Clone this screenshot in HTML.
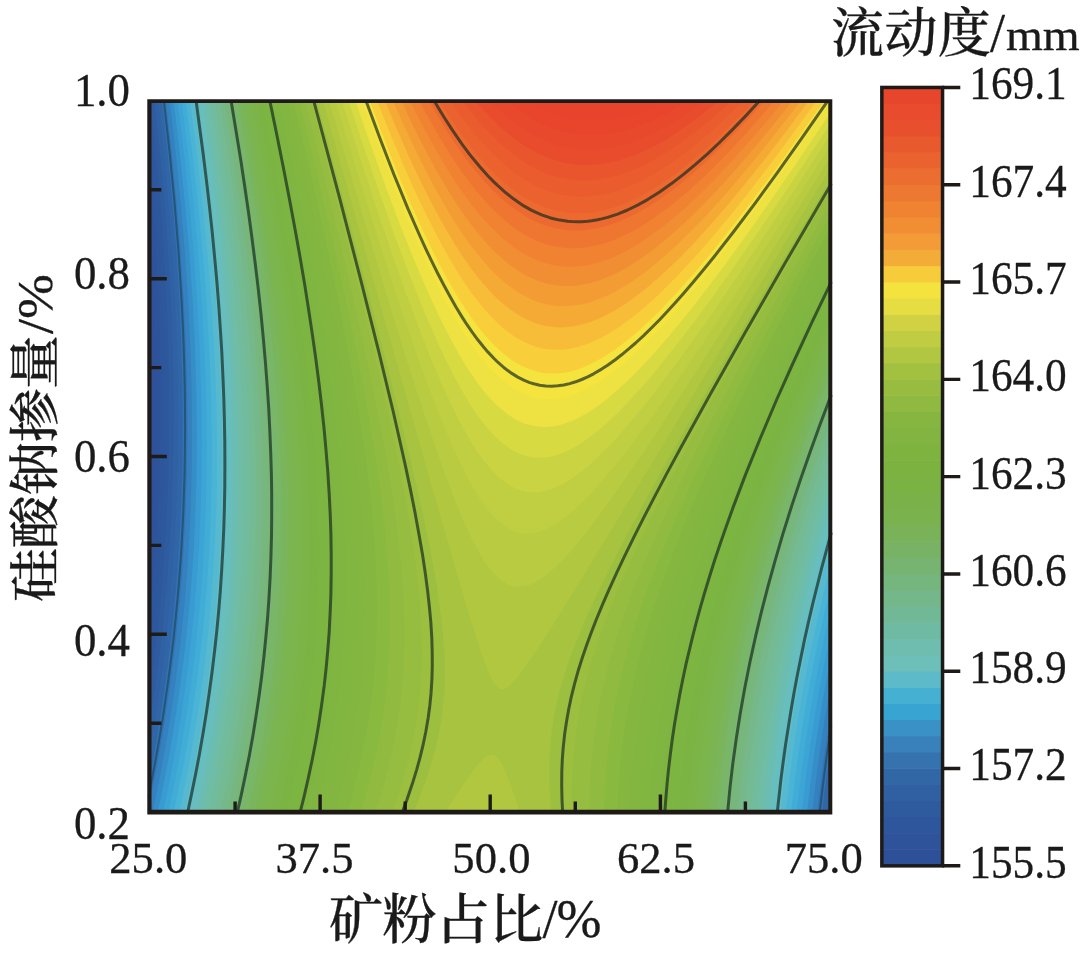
<!DOCTYPE html>
<html lang="zh-CN">
<head>
<meta charset="utf-8">
<title>流动度等高线图</title>
<style>
html,body{margin:0;padding:0;background:#fff;}
body{width:1089px;height:956px;overflow:hidden;}
svg{display:block;}
.num{font-family:"Liberation Serif","Noto Serif CJK SC",serif;fill:#1a1a1a;stroke:#1a1a1a;stroke-width:0.3px;}
.lab{font-family:"Liberation Serif","Noto Serif CJK SC",serif;fill:#1a1a1a;stroke:#1a1a1a;stroke-width:0.3px;}
.cjk{font-weight:500;}
</style>
</head>
<body>
<svg width="1089" height="956" viewBox="0 0 1089 956">
<rect width="1089" height="956" fill="#fff"/>
<g id="field">
<rect x="148.3" y="100.3" width="683.0" height="713.3" fill="#2e4e98"/>
<path d="M148.3,100.3L831.3,100.3 831.3,813.6 148.3,813.6 148.3,520.3 149.8,489.9 151,457.9 151.6,426 151.8,394 151.6,362 150.9,328.1 149.8,294.1 148.3,261.6 148.3,102.3Z" fill="#2e5199"/>
<path d="M148.3,100.3L831.3,100.3 831.3,813.6 148.3,813.6 148.3,582.1 150.1,559.8 151.7,537.9 153.1,513.9 154.1,491.9 155,469.9 155.6,446 156,422 156.1,398 156,374 155.6,350.1 154.2,302.1 151.8,252.2 148.3,199.9 148.3,102.3Z" fill="#2e539b"/>
<path d="M148.3,100.3L831.3,100.3 831.3,813.6 148.3,813.6 148.3,628.3 151,601.8 153.5,573.8 155.6,545.9 157.3,517.9 158.7,487.9 159.6,459.9 160.2,432 160.4,402 160.2,372 159.6,342.1 158.7,312.1 157.4,282.1 155.6,250.2 153.6,218.2 151.1,186.2 148.3,153.7 148.3,102.3Z" fill="#2e569c"/>
<path d="M148.3,100.3L831.3,100.3 831.3,813.6 148.3,813.6 148.3,666.9 152.1,635.8 155.5,603.8 158.5,569.8 160.7,537.9 162.6,503.9 163.8,471.9 164.5,440 164.7,406 164.5,374 163.8,340.1 162.6,306.1 161,272.1 158.6,234.2 155.7,194.2 152.2,154.2 148.3,115.1 148.3,102.3Z" fill="#2e589d"/>
<path d="M150.5,100.3L831.3,100.3 831.3,813.6 148.3,813.6 148.3,700.7 153.2,665.7 157.3,631.8 160.9,595.8 163.7,561.8 166,525.9 167.7,489.9 168.7,454 169.1,418 169,382 168.2,344.1 166.8,306.1 164.7,266.1 162.1,226.2 158.9,186.2 155.1,144.3 150.7,102.3Z" fill="#2e5c9f"/>
<path d="M154.2,100.3L831.3,100.3 831.3,813.6 148.3,813.6 148.3,731.1 153.8,695.7 159,657.8 163.1,621.8 166.7,583.8 169.4,547.9 171.5,509.9 172.9,471.9 173.5,434 173.5,396 172.8,356 171.5,316.1 169.4,274.1 166.6,232.2 163.3,190.2 159.2,146.3 154.3,100.8Z" fill="#2f61a4"/>
<path d="M158,100.3L831.3,100.3 831.3,777.1 827,813.6 148.3,813.6 148.3,759.1 152.1,737.7 155.7,715.7 159.3,691.7 162.3,669.7 165,647.8 167.5,625.8 169.7,603.8 171.8,579.8 174.1,547.9 175.9,515.9 177.2,483.9 177.9,450 178.1,410 177.5,368 176.2,326.1 174.2,284.1 171.3,240.2 167.8,196.2 163.5,150.3 158.3,102.3Z" fill="#3066a8"/>
<path d="M161.9,100.3L831.3,100.3 831.3,741.7 826.3,777.6 822.1,813.6 148.3,813.6 148.3,785 152.8,761.7 156.7,739.7 160,719.7 163.3,697.7 166.4,675.7 169.2,653.8 171.5,633.8 173.8,611.8 177,575.8 179.5,537.9 181.3,501.9 182.4,463.9 182.7,422 182.3,380 181,336.1 178.9,292.1 176,246.2 172.2,200.2 167.6,152.2 162.1,102.3Z" fill="#3273b3"/>
<path d="M165.7,100.3L831.3,100.3 831.3,710.1 827.2,735.7 823.4,761.7 820.1,787.6 817.1,813.6 148.3,813.6 148.3,809.4 153.2,785.6 157.4,763.6 161.3,741.7 165,719.7 170.6,681.7 175.4,643.8 179.5,603.8 181.3,583.8 182.9,561.8 185.3,519.9 186.8,477.9 187.4,434 187.1,390 185.9,346.1 183.7,300.1 180.7,252.2 176.7,204.2 171.9,154.2 166,102.3Z" fill="#3581c0"/>
<path d="M169.7,100.3L831.3,100.3 831.3,681.3 825.6,713.7 820.3,747.7 816,779.6 812,813.6 152.5,813.6 157,791.6 161,771.6 168.1,731.7 171.3,711.7 174.6,689.7 179.8,649.8 184,609.8 185.8,589.8 187.5,567.8 188.9,545.9 190,525.9 190.9,503.9 191.5,481.9 192,459.9 192.1,438 191.8,394 190.5,348.1 188.3,302.1 185.1,254.1 181.1,206.2 175.9,154.2 169.9,102.3Z" fill="#368ec9"/>
<path d="M173.6,100.3L831.3,100.3 831.3,654.7 823.9,693.7 820.5,713.7 817.3,733.7 814.3,753.7 811.6,773.6 806.9,813.6 157.6,813.6 165.7,773.6 169.5,753.7 173.3,731.7 179.4,691.7 182.4,669.7 184.9,649.8 187.1,629.8 189.3,607.8 191.2,585.8 192.7,565.8 193.9,545.9 195,523.9 196.4,481.9 196.8,459.9 196.9,438 196.5,394 195.1,348.1 192.8,302.1 189.5,254.1 185.3,206.2 180,154.2 173.8,102.3Z" fill="#389cd2"/>
<path d="M177.6,100.3L831.3,100.3 831.3,629.7 826.3,653.8 821.9,675.7 817.9,697.7 813.9,721.7 810.2,745.7 807.2,767.6 804.4,789.6 801.7,813.6 162.8,813.6 167.4,791.6 171.4,771.6 175.1,751.7 178.5,731.7 181.7,711.7 184.7,691.7 187.4,671.7 189.9,651.8 194.1,611.8 195.9,591.8 197.5,569.8 198.9,547.9 199.9,527.9 200.8,505.9 201.4,483.9 201.7,461.9 201.8,440 201.3,396 199.8,350.1 197.4,304.1 194,256.1 189.6,206.2 184.1,154.2 177.8,102.3Z" fill="#3ca5d6"/>
<path d="M181.6,100.3L831.3,100.3 831.3,606.2 825.6,631.8 820.1,657.8 815.1,683.7 810.5,709.7 806.4,735.7 802.6,761.7 799.3,787.6 796.4,813.6 168.1,813.6 172.7,791.6 176.7,771.6 180.4,751.7 183.8,731.7 187.1,711.7 190,691.7 193,669.7 195.4,649.8 197.6,629.8 199.6,609.8 201.3,589.8 202.9,567.8 204.1,547.9 205.2,525.9 206.4,483.9 206.7,461.9 206.8,440 206.2,396 204.6,350.1 202,304.1 198.5,256.1 193.9,206.2 188.5,156.2 181.9,102.3Z" fill="#41add7"/>
<path d="M185.7,100.3L831.3,100.3 831.3,583.9 824.2,613.8 818,641.8 812.4,669.7 806.8,699.7 802.2,727.7 798,755.7 794.4,783.6 791,813.6 173.5,813.6 177.7,793.6 181.7,773.6 185.5,753.7 189.3,731.7 192.5,711.7 195.4,691.7 198.4,669.7 200.8,649.8 203,629.8 204.9,609.8 206.8,587.8 208.2,567.8 209.4,547.9 210.4,525.9 211.1,505.9 211.6,483.9 211.8,461.9 211.8,440 211.1,396 209.4,350.1 206.7,304.1 203,256.1 198.5,208.2 192.7,156.2 185.9,102.3Z" fill="#49b4d6"/>
<path d="M189.7,100.3L831.3,100.3 831.3,562.7 823.5,593.8 816,625.8 809.2,657.8 803.1,689.7 797.9,719.7 793.1,751.7 788.9,783.6 785.6,813.6 178.9,813.6 183.2,793.6 187.2,773.6 191.3,751.7 194.8,731.7 198,711.7 201,691.7 203.7,671.7 206.1,651.8 208.5,629.8 210.4,609.8 212,589.8 213.4,569.8 214.7,547.9 215.6,527.9 216.4,505.9 216.8,485.9 217,463.9 217,442 216.7,420 216.2,398 215.4,376 214.3,352.1 211.6,306.1 207.8,258.1 202.9,208.2 197,156.2 190,102.3Z" fill="#56b9cf"/>
<path d="M193.9,100.3L831.3,100.3 831.3,542.3 822.4,575.8 814.1,609.8 806.5,643.8 799.7,677.7 793.6,711.7 788.3,745.7 783.8,779.6 780,813.6 184.5,813.6 189.2,791.6 193.2,771.6 197,751.7 200.4,731.7 203.6,711.7 206.6,691.7 209.3,671.7 211.7,651.8 213.9,631.8 215.8,611.8 217.4,591.8 218.9,569.8 220.1,549.9 221,527.9 221.7,507.9 222.1,485.9 222.3,463.9 222.2,442 221.8,420 221.2,398 220.4,376 219.3,352.1 216.3,306.1 212.4,258.1 207.4,208.2 201.3,156.2 194.2,102.3Z" fill="#62bec8"/>
<path d="M198.1,100.3L831.3,100.3 831.3,522.8 821,559.8 811.8,595.8 803,633.8 795.5,669.7 788.9,705.7 783.2,741.7 778.3,777.6 774.3,813.6 190.2,813.6 194.5,793.6 198.6,773.6 202.3,753.7 205.8,733.7 209.1,713.7 212,693.7 215,671.7 217.4,651.8 219.5,631.8 221.4,611.8 223,591.8 224.5,569.8 225.6,549.9 226.5,527.9 227.1,507.9 227.5,485.9 227.6,463.9 227.5,442 227,420 226.4,398 224.4,354.1 222.9,330.1 221.2,306.1 217.1,258.1 211.7,206.2 205.4,154.2 198.2,101.4Z" fill="#67bebd"/>
<path d="M202.3,100.3L831.3,100.3 831.3,504 819.7,543.9 814.2,563.8 809,583.8 799.9,621.8 791.7,659.8 788.1,677.7 784.4,697.7 781,717.7 778.2,735.7 775.3,755.7 772.7,775.6 770.4,795.6 768.5,813.6 196,813.6 200.3,793.6 204.4,773.6 208.2,753.7 211.7,733.7 214.9,713.7 217.9,693.7 220.6,673.7 223,653.8 225.1,633.8 227,613.8 228.8,591.8 230.1,571.8 231.2,551.9 232.1,529.9 232.6,509.9 233,487.9 233.1,465.9 232.9,444 232.4,422 231.7,400 230.8,378 229.5,354.1 226.3,308.1 222.1,260.1 216.8,210.2 210.4,158.2 202.6,102.3Z" fill="#6cbdb1"/>
<path d="M206.6,100.3L831.3,100.3 831.3,485.8 824.4,507.9 817.9,529.9 812.3,549.9 806.3,571.8 801.2,591.8 796.3,611.8 791.7,631.8 786.9,653.8 782.9,673.7 779.2,693.7 775.7,713.7 772.5,733.7 769.6,753.7 767,773.6 764.6,793.6 762.6,813.6 201.9,813.6 206.3,793.6 210.4,773.6 214.2,753.7 217.7,733.7 220.9,713.7 223.9,693.7 226.6,673.7 229,653.8 231.1,633.8 232.9,613.8 234.6,591.8 235.9,571.8 237,551.9 237.8,529.9 238.3,509.9 238.6,487.9 238.6,465.9 238.3,444 237.8,422 237,400 235.9,376 234.6,354.1 231.3,308.1 226.9,260.1 221.4,210.2 214.8,158.2 206.9,102.3Z" fill="#70bda6"/>
<path d="M210.9,100.3L831.3,100.3 831.3,468.2 824.3,489.9 816.8,513.9 810.3,535.9 804.1,557.9 798.3,579.8 792.7,601.8 787.9,621.8 783,643.8 778.4,665.7 774.2,687.7 770.3,709.7 767,729.7 764.1,749.7 761.1,771.6 758.6,793.6 756.5,813.6 208,813.6 212.4,793.6 216.5,773.6 220.3,753.7 223.8,733.7 227,713.7 230,693.7 232.6,673.7 235,653.8 237.1,633.8 238.9,613.8 240.5,593.8 241.8,573.8 242.8,553.9 243.6,531.9 244.1,511.9 244.3,489.9 244.3,467.9 244,446 243.4,424 242.6,402 241.5,380 240,356 236.6,310.1 234.4,286.1 231.8,260.1 226.1,210.2 219.4,158.2 211.2,102.3Z" fill="#72bb9d"/>
<path d="M215.3,100.3L831.3,100.3 831.3,451.1 823.6,473.9 815.9,497.9 808.5,521.9 802,543.9 795.9,565.8 789.6,589.8 784.1,611.8 778.6,635.8 773.8,657.8 769.4,679.7 765.4,701.7 761.7,723.7 758.4,745.7 755.2,769.6 752.6,791.6 750.3,813.6 214.2,813.6 218.6,793.6 222.7,773.6 226.5,753.7 229.7,735.7 233,715.7 235.9,695.7 238.6,675.7 241,655.8 243.1,635.8 244.9,615.8 246.5,595.8 247.7,575.8 248.7,555.9 249.5,533.9 250,513.9 250.2,491.9 250.1,471.9 249.7,450 249.1,428 248.3,406 247.2,384 245.7,360 243.9,336.1 241.9,312.1 237.2,264.1 231.2,212.2 223.9,158.2 215.6,102.3Z" fill="#74ba93"/>
<path d="M219.7,100.3L831.3,100.3 831.3,434.5 822.4,459.9 814.4,483.9 806.1,509.9 798.8,533.9 792.5,555.9 785.9,579.8 779.8,603.8 774,627.8 768.7,651.8 764.2,673.7 760.1,695.7 755.9,719.7 752.3,743.7 749,767.6 746.4,789.6 744,813.6 220.5,813.6 224.9,793.6 229.1,773.6 232.9,753.7 236.4,733.7 239.7,713.7 242.6,693.7 245,675.7 247.4,655.8 249.5,635.8 251.2,615.8 252.7,595.8 254,575.8 254.9,555.9 255.6,533.9 256,513.9 256.1,491.9 256,469.9 255.5,448 254.8,426 253.8,404 252.6,382 251,358 247.2,312.1 244.8,288.1 242.1,262.1 235.8,210.2 228.6,158.2 220,102.3Z" fill="#76b889"/>
<path d="M224.1,100.3L831.3,100.3 831.3,418.4 822,444 812.4,471.9 804.4,495.9 796.2,521.9 788.5,547.9 781.7,571.8 774.9,597.8 769,621.8 763.5,645.8 758.5,669.7 753.9,693.7 749.7,717.7 746,741.7 742.7,765.6 739.9,789.6 737.5,813.6 227,813.6 231.4,793.6 235.6,773.6 239.5,753.7 243,733.7 246.3,713.7 249.2,693.7 251.6,675.7 253.9,655.8 256,635.8 257.7,615.8 259.2,595.8 260.3,575.8 261.2,555.9 261.9,533.9 262.2,513.9 262.2,491.9 262,469.9 261.5,448 260.6,426 259.6,404 256.7,360 254.8,336.1 252.5,312.1 249.9,286.1 247.2,262.1 240.9,212.2 233.3,158.2 224.2,100.5Z" fill="#77b77e"/>
<path d="M228.7,100.3L831.3,100.3 831.3,402.6 820.3,432 810.3,459.9 800.8,487.9 793,511.9 785,537.9 778,561.8 770.9,587.8 764.3,613.8 758.1,639.8 753,663.7 748.2,687.7 743.6,713.7 739.8,737.7 736.3,763.6 733.2,789.6 730.9,813.6 233.6,813.6 237.7,795.6 241.9,775.6 245.8,755.7 249.4,735.7 252.7,715.7 255.6,695.7 258.3,675.7 260.6,655.8 262.6,635.8 264.3,615.8 265.7,595.8 266.8,575.8 267.7,555.9 268.2,535.9 268.5,515.9 268.5,493.9 268.2,471.9 267.6,450 266.7,428 265.6,406 262.5,362 260.5,338.1 258.2,314.1 255.4,288.1 252.7,264.1 245.9,212.2 238,158.2 229,102.3Z" fill="#78b672"/>
<path d="M233.3,100.3L831.3,100.3 831.3,387.3 820.2,416 809.1,446 798.5,475.9 789.8,501.9 780.9,529.9 772.5,557.9 765.2,583.8 758.5,609.8 752.2,635.8 746.5,661.7 741.7,685.7 737,711.7 732.9,737.7 729.6,761.7 726.5,787.6 724,813.6 240.5,813.6 245,793.6 249.2,773.6 253.1,753.7 256.3,735.7 259.6,715.7 262.6,695.7 264.9,677.7 267.3,657.8 269.3,637.8 271,617.8 272.4,597.8 273.5,577.8 274.2,557.9 274.7,537.9 275,517.9 274.9,495.9 274.5,473.9 273.9,452 272.9,430 271.7,408 268.5,364 266.4,340.1 264,316.1 258.5,268.1 255.1,242.2 251.3,214.2 243.2,160.2 233.6,102.3Z" fill="#79b667"/>
<path d="M237.9,100.3L831.3,100.3 831.3,372.2 818.6,404 807.9,432 797,461.9 786.5,491.9 776.7,521.9 768.6,547.9 760.5,575.8 753,603.8 746.6,629.8 740.2,657.8 734.9,683.7 730.2,709.7 726.1,735.7 722.5,761.7 719.4,787.6 717,813.6 247.5,813.6 252.1,793.6 256.3,773.6 259.9,755.7 263.5,735.7 266.8,715.7 269.4,697.7 272.1,677.7 274.4,657.8 276.3,637.8 277.8,619.8 279.2,599.8 280.3,579.8 281,559.8 281.5,539.9 281.6,519.9 281.5,497.9 281.1,475.9 280.3,454 279.3,432 278,410 276.4,388 274.4,364 272.2,340.1 269.6,316.1 266.9,292.1 263.7,266.1 256.5,214.2 247.8,158.2 238.2,101.8Z" fill="#7ab55b"/>
<path d="M242.6,100.3L831.3,100.3 831.3,357.6 818,390 804.6,424 792.6,456 782.6,483.9 773.1,511.9 764.1,539.9 755.7,567.8 747.9,595.8 740.8,623.8 734.7,649.8 728.8,677.7 723.9,703.7 719.3,731.7 715.6,757.7 712.3,785.6 709.7,813.6 254.8,813.6 259.4,793.6 263.3,775.6 267.2,755.7 270.9,735.7 273.8,717.7 276.8,697.7 279.2,679.7 281.5,659.8 283.3,641.8 284.9,621.8 286.3,601.8 287.3,581.8 288,561.8 288.4,541.9 288.5,521.9 288.3,499.9 287.8,477.9 286.9,456 285.8,434 284.4,412 282.8,390 280.7,366 278.3,342.1 275.7,318.1 272.8,294.1 269.4,268.1 261.7,214.2 253.1,160.2 243,102.3Z" fill="#7bb551"/>
<path d="M247.4,100.3L831.3,100.3 831.3,343.2 818.2,374 804.3,408 791.9,440 780,471.9 768.7,503.9 758.8,533.9 750.2,561.8 741.6,591.8 734.3,619.8 727.6,647.8 721.6,675.7 716.3,703.7 712,729.7 708,757.7 704.8,785.6 702.2,813.6 262.3,813.6 266.9,793.6 271.3,773.6 275.2,753.7 278.5,735.7 281.4,717.7 284.4,697.7 287,677.7 289,659.8 291,639.8 292.4,621.8 293.7,601.8 294.6,581.8 295.2,561.8 295.6,541.9 295.6,521.9 295.3,501.9 294.7,479.9 293.8,457.9 292.5,436 291,414 289.3,392 287.1,368 284.6,344.1 281.8,320.1 275.4,270.1 267.4,216.2 258.5,162.2 247.7,102.3Z" fill="#7bb54c"/>
<path d="M252.2,100.3L831.3,100.3 831.3,329.1 816.1,364 801,400 788.2,432 775.2,465.9 763.6,497.9 752.8,529.9 743.9,557.9 735.1,587.8 727.1,617.8 720.2,645.8 714.1,673.7 708.7,701.7 704.1,729.7 700.2,757.7 697,785.6 694.5,813.6 270,813.6 274.7,793.6 278.7,775.6 282.7,755.7 286,737.7 289,719.7 292,699.7 294.6,679.7 296.7,661.7 298.6,641.8 300,623.8 301.2,603.8 302.1,583.8 302.7,563.8 303,543.9 302.9,523.9 302.5,503.9 301.9,483.9 300.9,461.9 299.6,440 298,418 296.2,396 293.8,372 291.2,348.1 288.4,324.1 285,298.1 281.4,272.1 273.4,220.2 263.6,162.2 252.6,102.3Z" fill="#7cb447"/>
<path d="M257.1,100.3L831.3,100.3 831.3,315.3 813.9,354.1 798.4,390 784.4,424 771,457.9 758.4,491.9 747.9,521.9 738.1,551.9 728.4,583.8 720.1,613.8 712.6,643.8 706.4,671.7 700.9,699.7 696.2,727.7 692.2,755.7 688.8,785.6 686.4,813.6 278.1,813.6 282.9,793.6 286.8,775.6 290.9,755.7 294.2,737.7 297.2,719.7 299.9,701.7 302.6,681.7 304.6,663.7 306.5,643.8 307.9,625.8 309,607.8 309.9,587.8 310.4,567.8 310.6,547.9 310.5,527.9 310,505.9 309.3,485.9 308.2,463.9 306.8,442 305,420 303.1,398 300.6,374 297.9,350.1 294.9,326.1 291.4,300.1 287.6,274.1 279,220.2 269.2,164.2 257.5,102.3Z" fill="#7cb443"/>
<path d="M262.1,100.3L831.3,100.3 831.3,301.8 812.7,342.1 796.8,378 780.6,416 766.8,450 754.5,481.9 742.2,515.9 732,545.9 722,577.8 712.9,609.8 705.1,639.8 698.3,669.7 692.7,697.7 687.9,725.7 683.7,755.7 680.5,783.6 678,813.6 286.5,813.6 291.3,793.6 295.3,775.6 299.1,757.7 302.8,737.7 305.8,719.7 308.8,699.7 311.1,681.7 313.1,663.7 314.9,643.8 316.3,625.8 317.3,607.8 318.1,587.8 318.5,567.8 318.6,547.9 318.3,527.9 317.8,507.9 317,487.9 315.7,465.9 314.2,444 312.3,422 310,398 307.3,374 304.4,350.1 301.3,326.1 297.6,300.1 293.6,274.1 284.7,220.2 274.5,164.2 262.1,100.6Z" fill="#7db542"/>
<path d="M267.1,100.3L831.3,100.3 831.3,288.5 812.5,328.1 794.3,368 778.5,404 762.5,442 748.2,477.9 736.3,509.9 724.4,543.9 714.1,575.8 704.7,607.8 696.8,637.8 690.3,665.7 684.1,695.7 679,725.7 675,753.7 671.7,783.6 669.3,813.6 295.2,813.6 299.7,795.6 304.2,775.6 308,757.7 311.4,739.7 314.5,721.7 317.2,703.7 319.5,685.7 321.8,665.7 323.4,647.8 324.9,627.8 325.8,609.8 326.6,589.8 326.9,571.8 326.9,551.9 326.6,531.9 326,511.9 325,491.9 323.7,469.9 322,448 320,426 317.5,402 315,380 312,356 308.7,332.1 304.8,306.1 300.7,280.1 291.2,224.2 280.4,166.2 267.5,102.3Z" fill="#7db540"/>
<path d="M272.2,100.3L831.3,100.3 831.3,275.4 810.6,318.1 790.9,360 772.8,400 756.5,438 742.6,471.9 728.7,507.9 716.5,541.9 706.5,571.8 696.8,603.8 688.6,633.8 681.4,663.7 678.3,677.7 675.1,693.7 672.5,707.7 669.8,723.7 667.7,737.7 665.6,753.7 664,767.6 662.3,783.6 660.1,813.6 304.4,813.6 309,795.6 313.1,777.6 317,759.7 320.8,739.7 323.9,721.7 326.6,703.7 328.9,685.7 330.9,667.7 332.5,649.8 333.8,631.8 334.8,613.8 335.4,593.8 335.7,575.8 335.6,555.9 335.2,535.9 334.5,515.9 333.5,495.9 332,473.9 330.1,452 328,430 325.4,406 322.7,384 319.2,358 315.7,334.1 311.7,308.1 307.4,282.1 297.5,226.2 285.5,164.2 272.7,102.3Z" fill="#7fb540"/>
<path d="M277.4,100.3L831.3,100.3 831.3,262.5 808.6,308.1 788.4,350.1 768.8,392 751.9,430 736.7,465.9 722.3,501.9 714.7,521.9 708.9,537.9 697.9,569.8 692.8,585.8 687.9,601.8 683.3,617.8 678.9,633.8 674.8,649.8 671.1,665.7 665.2,693.7 662.6,707.7 659.9,723.7 657.8,737.7 655.7,753.7 654.1,767.6 652.5,783.6 651.2,799.6 650.4,813.6 314.1,813.6 318.7,795.6 323,777.6 326.9,759.7 330.4,741.7 333.5,723.7 336.3,705.7 338.6,687.7 340.6,669.7 342.2,651.8 343.4,633.8 344.3,615.8 344.8,597.8 345,579.8 344.9,559.8 344.3,539.9 343.5,519.9 342.3,499.9 340.7,477.9 338.7,456 336.4,434 333.6,410 330.7,388 327.3,364 323.4,338.1 314.7,286.1 304.3,230.2 291.5,166.2 277.9,102.3Z" fill="#81b640"/>
<path d="M282.7,100.3L831.3,100.3 831.3,249.9 806.7,298.1 783.9,344.1 762.9,388 744.6,428 728,465.9 712.5,503.9 700.2,535.9 694.4,551.9 688.1,569.8 682.8,585.8 677.8,601.8 673.1,617.8 668.6,633.8 664.4,649.8 661,663.7 657.9,677.7 654.6,693.7 651.9,707.7 649.2,723.7 646.9,739.7 645.1,753.7 643.3,769.6 642,783.6 640.9,799.6 640.1,813.6 324.4,813.6 329.2,795.6 333,779.6 337,761.7 340.6,743.7 343.8,725.7 346.6,707.7 349,689.7 350.7,673.7 352.3,655.8 353.5,637.8 354.3,619.8 354.8,601.8 354.9,583.8 354.6,563.8 354.1,545.9 353.1,525.9 351.6,503.9 350,483.9 347.8,461.9 345.4,440 342.6,418 339.3,394 335.4,368 331.6,344.1 322.5,292.1 316.9,262.1 311,232.2 297.7,168.2 283.2,102.3Z" fill="#83b640"/>
<path d="M288.1,100.3L831.3,100.3 831.3,237.5 804.8,288.1 780.4,336.1 758.7,380 738.8,422 720.8,461.9 704.6,499.9 696.5,519.9 690.2,535.9 678.4,567.8 672.3,585.8 667.1,601.8 662.8,615.8 658.1,631.8 654.3,645.8 650.3,661.7 646.6,677.7 643.2,693.7 640.5,707.7 638.1,721.7 636,735.7 633.9,751.7 632.4,765.6 631,781.6 629.9,797.6 629.1,813.6 335.4,813.6 340.3,795.6 344.3,779.6 348.4,761.7 351.7,745.7 354.9,727.7 357.4,711.7 359.6,695.7 361.6,677.7 363.1,661.7 364.3,643.8 365.1,625.8 365.5,607.8 365.5,589.8 365.1,569.8 364.5,551.9 363.3,531.9 361.9,511.9 360.1,491.9 357.8,469.9 355.1,448 352.2,426 348.7,402 344.9,378 340.5,352.1 335.5,324.1 330.6,298.1 318.6,238.2 304.9,174.2 288.6,102.3Z" fill="#85b740"/>
<path d="M293.6,100.3L831.3,100.3 831.3,225.2 801.9,280.1 774.7,332.1 750.4,380 729.9,422 710.4,463.9 694.5,499.9 680.4,533.9 672.6,553.9 666.6,569.8 656.2,599.8 651,615.8 646.2,631.8 642.2,645.8 638.1,661.7 634.3,677.7 630.8,693.7 628.1,707.7 625.4,723.7 623.1,739.7 621.3,753.7 619.9,767.6 618.6,783.6 617.8,797.6 617.2,813.6 347.3,813.6 352.4,795.6 356.5,779.6 360.7,761.7 364,745.7 367,729.7 369.6,713.7 371.7,697.7 373.7,679.7 375.1,663.7 376.2,645.8 376.8,629.8 377.1,611.8 377,593.8 376.5,575.8 375.7,557.9 374.4,537.9 372.7,517.9 370.7,497.9 368.3,477.9 365.2,454 361.7,430 358.3,408 353.9,382 349.2,356 338.7,302.1 325.7,240.2 310.9,174.2 294.1,102.3Z" fill="#8ab940"/>
<path d="M299.2,100.3L831.3,100.3 831.3,213.1 797.8,274.1 768.9,328.1 742.8,378 718.7,426 698.5,467.9 681.1,505.9 666.5,539.9 658.5,559.8 652.3,575.8 646.4,591.8 640.8,607.8 635,625.8 630.7,639.8 626.7,653.8 622.6,669.7 619.3,683.7 616.3,697.7 613.3,713.7 611,727.7 609.1,741.7 607.5,755.7 606.2,769.6 605.2,783.6 604.5,797.6 604.1,813.6 360.4,813.6 365.1,797.6 369.5,781.6 373.4,765.6 376.9,749.7 380.1,733.7 382.7,717.7 385,701.7 386.8,685.7 388.2,669.7 389.2,653.8 389.7,637.8 389.9,619.8 389.8,603.8 389.2,585.8 388.2,567.8 386.7,547.9 384.8,527.9 382.6,507.9 379.8,485.9 376.9,465.9 373.2,442 369.1,418 364.8,394 359.4,366 348.4,312.1 334.8,250.2 319,182.2 299.7,102.3Z" fill="#90bb40"/>
<path d="M304.9,100.3L831.3,100.3 831.3,201.2 792.6,270.1 760.7,328.1 732.7,380 706.7,430 684.7,473.9 666.6,511.9 658.5,529.9 650.5,547.9 642.9,565.8 636.5,581.8 630.3,597.8 624.5,613.8 619.1,629.8 614.6,643.8 610.5,657.8 606.8,671.7 603.3,685.7 600.3,699.7 597.6,713.7 595.4,727.7 593.5,741.7 591.9,755.7 590.8,769.6 590,783.6 589.6,797.6 589.5,813.6 375,813.6 380.7,795.6 384.7,781.6 388.8,765.6 392.1,751.7 394.9,737.7 397.8,721.7 400.1,705.7 401.7,691.7 402.9,677.7 403.9,661.7 404.4,645.8 404.5,629.8 404.2,613.8 403.4,595.8 402.2,577.8 400.7,559.8 398.7,541.9 396.2,521.9 393.1,499.9 389.7,477.9 385.6,454 381.2,430 371.2,380 358.6,322.1 343.4,256.1 325.4,182.2 305.4,102.3Z" fill="#96bd40"/>
<path d="M310.7,100.3L831.3,100.3 831.3,189.5 782.7,274.1 742,346.1 706.8,410 690.7,440 678.1,463.9 664.7,489.9 652.7,513.9 642,535.9 632.7,555.9 624.6,573.8 616.1,593.8 608.8,611.8 602.8,627.8 598.6,639.8 594.6,651.8 591,663.7 588.1,673.7 585,685.7 582.6,695.7 580.1,707.7 578,719.7 576.4,729.7 574.9,741.7 573.7,753.7 572.9,765.6 572.3,777.6 572.1,789.6 572.2,801.6 572.5,813.6 392,813.6 396.9,799.6 401.3,785.6 405.4,771.6 409.6,755.7 412.7,741.7 415.4,727.7 417.6,713.7 419.3,699.7 420.6,685.7 421.5,671.7 421.9,657.8 421.8,641.8 421.4,627.8 420.5,611.8 419.3,595.8 417.4,577.8 415.2,559.8 412.4,539.9 409.2,519.9 405.4,497.9 401.2,475.9 396.8,454 391,426 385.3,400 371.4,340.1 354.8,272.1 335.1,194.2 311.2,102.3Z" fill="#9cbf40"/>
<path d="M316.6,100.3L831.3,100.3 831.3,177.9 772.3,278.1 724.6,360 684.6,430 652.2,487.9 638.1,513.9 626.4,535.9 615,557.9 605,577.8 596.3,595.8 588.9,611.8 581.1,629.8 575.4,643.8 570.9,655.8 566.7,667.7 563.5,677.7 560.6,687.7 558,697.7 555.3,709.7 553.4,719.7 552.2,727.7 551,737.7 550.1,747.7 549.5,757.7 549.3,767.6 549.3,777.6 549.7,789.6 550.4,801.6 551.5,813.6 413,813.6 418.7,799.6 424.7,783.6 428.8,771.6 432.4,759.7 435.6,747.7 438.4,735.7 440.6,723.7 442.1,713.7 443.5,701.7 444.3,689.7 444.7,677.7 444.7,665.7 444.2,651.8 443.2,637.8 441.7,621.8 439.9,607.8 437.3,589.8 434.6,573.8 431,553.9 427,533.9 422.8,513.9 417,487.9 404.7,436 388.8,372 369.1,296.1 345.2,206.2 317.1,102.3Z" fill="#a7c340"/>
<path d="M322.6,100.3L831.3,100.3 831.3,166.5 631.6,496.8 581.7,578.6 551.7,626.9 541.7,642.5 531.7,657.7 523.8,669.2 517.8,677.1 511.8,683.8 507.8,687.2 505.8,688.3 503.8,689.1 501.8,689.2 499.8,688.7 497.8,687.5 495.8,685.5 493.8,682.8 491.8,679.4 489.8,675.3 485.8,665.6 481.8,654.6 475.8,636.4 469.8,617 453.9,563.1 427.9,472.7 386,324.8 323.2,102.3ZM487.7,755.7L489.8,754.8 491.8,754.5 493.8,754.8 495.8,755.9 497.8,757.7 499.8,760.3 501.8,763.6 505.8,772 509.8,782.3 513.8,793.8 520.1,813.6 444.4,813.6 459.8,789.6 465.8,780.8 471.8,772.4 475.8,767.2 479.8,762.4 483.8,758.4 485.8,756.8Z" fill="#b1c740"/>
<path d="M328.8,100.3L831.3,100.3 831.3,155.3 755.4,277.7 723.5,328.6 695.5,372.6 675.5,403.6 657.6,431.1 641.6,455.1 627.6,475.6 613.6,495.6 601.6,512.1 589.7,528 579.7,540.5 569.7,552.2 561.7,560.8 553.7,568.6 545.7,575.3 541.7,578.2 537.7,580.8 531.7,583.9 525.7,585.9 521.8,586.6 519.8,586.8 515.8,586.6 511.8,585.9 507.8,584.4 503.8,582.2 499.8,579.3 495.8,575.7 491.8,571.3 487.8,566.2 483.8,560.3 479.8,553.8 475.8,546.6 471.8,538.8 463.8,521.6 459.8,512.2 453.9,497.4 443.9,470.9 431.9,436.8 419.9,400.8 405.9,357.2 389.9,305.7 372,246.4 352,179.3 329.4,102.3Z" fill="#b9cb41"/>
<path d="M335.1,100.3L831.3,100.3 831.3,144.1 781.4,223 737.4,291.2 717.5,321.6 699.5,348.6 683.5,372.1 667.5,395.2 643.6,428.6 631.6,444.6 621.6,457.4 611.6,469.8 601.6,481.6 591.7,492.7 583.7,500.9 575.7,508.6 567.7,515.4 559.7,521.4 553.7,525.3 549.7,527.5 545.7,529.4 539.7,531.7 533.7,533.1 527.7,533.7 521.8,533.3 517.8,532.4 511.8,530.2 507.8,528.1 503.8,525.5 497.8,520.6 493.8,516.6 489.8,512.1 485.8,507.1 481.8,501.6 477.8,495.5 471.8,485.6 467.8,478.3 461.8,466.6 451.9,445.2 441.9,421.6 429.9,390.9 417.9,358.1 403.9,317.7 389.9,275.7 374,226 356,168.5 335.7,102.3Z" fill="#c0ce41"/>
<path d="M341.6,100.3L831.3,100.3 831.3,133.1 805.3,173.5 779.4,213.3 757.4,246.6 735.4,279.3 715.5,308.5 697.5,334.2 679.5,359.1 663.5,380.6 651.6,396.2 641.6,408.7 631.6,420.8 621.6,432.4 611.6,443.4 603.6,451.6 595.6,459.4 587.7,466.6 579.7,473.1 573.7,477.5 565.7,482.6 559.7,485.8 555.7,487.7 551.7,489.2 545.7,491.1 539.7,492.2 533.7,492.6 527.7,492.1 523.8,491.4 517.8,489.5 513.8,487.7 507.8,484.3 503.8,481.5 497.8,476.4 493.8,472.5 489.8,468.1 483.8,460.8 479.8,455.3 473.8,446.4 469.8,439.9 463.8,429.5 459.8,422 453.9,410.2 443.9,388.9 431.9,361 419.9,330.8 405.9,293.4 391.9,253.8 376,206.7 360,157.9 342,101.5Z" fill="#cad342"/>
<path d="M348.3,100.3L831.3,100.3 831.3,122.3 805.3,161.8 779.4,200.7 755.4,235.9 733.4,267.5 713.5,295.5 695.5,320 677.5,343.6 661.5,363.6 651.6,375.7 641.6,387.3 631.6,398.3 623.6,406.8 615.6,414.8 607.6,422.3 599.6,429.3 591.7,435.7 583.7,441.5 577.7,445.3 569.7,449.8 563.7,452.5 557.7,454.7 551.7,456.4 545.7,457.4 539.7,457.7 533.7,457.4 527.7,456.4 521.8,454.5 517.8,452.9 513.8,450.9 507.8,447.1 501.8,442.6 497.8,439.1 493.8,435.2 487.8,428.6 481.8,421.2 477.8,415.7 471.8,406.9 467.8,400.6 461.8,390.5 455.8,379.6 445.9,360 439.9,347.4 433.9,334.1 421.9,306 407.9,270.8 393.9,233.4 380,194.2 364,147.6 348.9,102.3Z" fill="#d8da42"/>
<path d="M355.1,100.3L831.3,100.3 831.3,111.5 799.3,159.1 769.4,202.6 753.4,225.3 737.4,247.6 721.5,269.4 707.5,287.9 693.5,306 681.5,321 669.5,335.4 657.6,349.3 647.6,360.4 639.6,368.8 631.6,376.9 623.6,384.6 615.6,391.8 607.6,398.5 599.6,404.7 593.6,408.9 585.7,414 579.7,417.3 573.7,420.2 567.7,422.6 561.7,424.6 555.7,426 549.7,426.8 543.7,427 537.7,426.6 531.7,425.6 525.7,423.9 521.8,422.3 515.8,419.4 511.8,417 505.8,412.8 501.8,409.6 495.8,404.2 491.8,400.1 485.8,393.4 481.8,388.5 477.8,383.2 471.8,374.7 465.8,365.5 459.8,355.6 453.9,345 447.9,333.7 441.9,321.9 435.9,309.5 423.9,283 411.9,254.6 399.9,224.4 386,187.5 372,148.8 355.8,102.3Z" fill="#ede241"/>
<path d="M362.2,100.3L831.3,100.3 831.3,100.9 817.3,121.5 783.4,170.3 757.4,206.6 733.4,239 713.5,264.9 693.5,289.8 675.5,310.9 665.5,322.2 657.6,330.8 649.6,339.1 641.6,347 633.6,354.6 625.6,361.7 617.6,368.4 611.6,373.1 603.6,378.8 597.6,382.8 591.7,386.3 585.7,389.5 579.7,392.3 573.7,394.7 567.7,396.5 561.7,398 555.7,398.9 549.7,399.2 543.7,399 537.7,398.2 531.7,396.8 527.7,395.5 521.8,393 515.8,389.8 511.8,387.4 505.8,383 501.8,379.8 495.8,374.3 491.8,370.3 485.8,363.6 481.8,358.8 475.8,351 469.8,342.5 463.8,333.4 453.9,316.7 447.9,305.9 441.9,294.5 429.9,270.1 417.9,243.7 405.9,215.4 391.9,180.5 378,143.8 362.9,102.3Z" fill="#f6e43e"/>
<path d="M369.4,100.3L824.5,100.3 799.3,136.1 775.4,169.4 753.4,199 731.4,227.6 711.5,252.6 693.5,274 675.5,294.1 659.6,310.9 651.6,318.7 643.6,326.2 635.6,333.4 629.6,338.4 621.6,344.7 615.6,349.2 607.6,354.6 601.6,358.3 595.6,361.6 589.7,364.6 583.7,367.2 577.7,369.4 571.7,371.2 565.7,372.5 559.7,373.3 553.7,373.6 547.7,373.4 541.7,372.7 535.7,371.3 531.7,370.1 525.7,367.8 519.8,364.9 513.8,361.4 509.8,358.6 505.8,355.6 499.8,350.6 495.8,346.8 489.8,340.7 485.8,336.2 479.8,329 473.8,321.1 467.8,312.7 457.8,297.2 451.9,287.1 445.9,276.4 439.9,265.2 433.9,253.5 421.9,228.5 409.9,201.8 397.9,173.4 384,138.5 370,101.8Z" fill="#f8cf3a"/>
<path d="M376.9,100.3L817,100.3 793.4,133.1 771.4,162.7 749.4,191.4 729.4,216.4 711.5,238 693.5,258.6 677.5,275.7 661.5,291.7 653.6,299.2 645.6,306.3 637.6,313 631.6,317.8 623.6,323.7 617.6,327.9 611.6,331.7 605.6,335.2 599.6,338.4 593.6,341.2 587.7,343.7 581.7,345.8 575.7,347.4 569.7,348.7 563.7,349.5 557.7,349.8 551.7,349.6 545.7,348.9 539.7,347.7 535.7,346.6 529.7,344.4 523.8,341.7 517.8,338.4 513.8,335.9 509.8,333.1 503.8,328.4 499.8,325 493.8,319.3 489.8,315.1 483.8,308.4 477.8,301.1 471.8,293.2 461.8,278.7 455.8,269.2 449.9,259.2 439.9,241.3 427.9,218 415.9,192.9 403.9,166.1 391.9,137.8 377.7,102.3Z" fill="#f7bc38"/>
<path d="M384.7,100.3L809.2,100.3 787.4,129.7 767.4,155.9 747.4,181.1 729.4,202.9 711.5,223.8 695.5,241.4 679.5,257.9 663.5,273.2 649.6,285.5 641.6,292 635.6,296.6 627.6,302.3 621.6,306.3 615.6,310 609.6,313.3 603.6,316.4 597.6,319.1 591.7,321.5 585.7,323.5 579.7,325.1 573.7,326.3 567.7,327 561.7,327.4 555.7,327.2 549.7,326.6 543.7,325.5 539.7,324.5 533.7,322.5 527.7,320 521.8,316.9 517.8,314.6 511.8,310.6 507.8,307.6 501.8,302.7 497.8,299.1 493.8,295.2 487.8,288.9 481.8,282.1 475.8,274.7 465.8,261.1 459.8,252.1 453.9,242.7 443.9,225.8 431.9,203.8 421.9,184 409.9,158.7 397.9,131.8 385.5,102.3Z" fill="#f5aa36"/>
<path d="M392.7,100.3L801.2,100.3 781.4,126.1 761.4,151.4 743.4,173.3 725.5,194.2 709.5,212 693.5,228.8 677.5,244.5 663.5,257.1 649.6,268.7 641.6,274.8 635.6,279.1 627.6,284.4 621.6,288 615.6,291.4 609.6,294.5 603.6,297.2 597.6,299.6 591.7,301.7 585.7,303.4 579.7,304.7 573.7,305.6 567.7,306.1 563.7,306.2 557.7,305.9 551.7,305.3 547.7,304.5 541.7,303 535.7,301.1 531.7,299.5 525.7,296.6 521.8,294.4 515.8,290.7 509.8,286.5 505.8,283.3 499.8,278.2 495.8,274.4 489.8,268.4 479.8,257 469.8,244.2 459.8,229.9 449.9,214.2 437.9,193.6 427.9,175 415.9,151.1 403.9,125.5 393.6,102.3Z" fill="#f39c34"/>
<path d="M401.1,100.3L792.8,100.3 775.4,122.3 757.4,144.2 739.4,165.3 723.5,183.3 707.5,200.3 691.5,216.3 677.5,229.4 663.5,241.5 649.6,252.4 637.6,260.8 625.6,268.2 619.6,271.5 613.6,274.4 607.6,277.1 601.6,279.5 595.6,281.5 589.7,283.2 583.7,284.5 577.7,285.4 571.7,285.9 567.7,286 561.7,285.8 555.7,285.2 551.7,284.6 545.7,283.2 539.7,281.4 535.7,279.9 529.7,277.3 525.7,275.3 521.8,273 515.8,269.2 509.8,264.9 505.8,261.7 499.8,256.5 495.8,252.8 491.8,248.8 485.8,242.4 475.8,230.6 465.8,217.4 455.8,202.7 445.9,186.8 435.9,169.5 423.9,147.2 413.9,127.4 401.9,102.1Z" fill="#f18e33"/>
<path d="M409.9,100.3L784,100.3 765.4,122.9 749.4,141.6 733.4,159.5 717.5,176.5 701.5,192.6 687.5,205.8 673.5,218 661.5,227.7 649.6,236.5 637.6,244.4 625.6,251.2 619.6,254.3 613.6,257 607.6,259.4 601.6,261.5 591.7,264.2 585.7,265.4 579.7,266.2 573.7,266.7 569.7,266.7 563.7,266.5 559.7,266.1 553.7,265.2 549.7,264.3 545.7,263.2 539.7,261.2 533.7,258.8 529.7,256.9 523.8,253.7 519.8,251.3 513.8,247.2 509.8,244.2 505.8,241 499.8,235.8 489.8,226.1 479.8,214.9 469.8,202.4 459.8,188.5 449.9,173.3 439.9,156.8 429.9,139.2 419.9,120.3 409.9,100.4Z" fill="#f08232"/>
<path d="M419.1,100.3L774.8,100.3 759.4,118.3 743.4,136.2 727.5,153.3 713.5,167.5 699.5,180.9 687.5,191.7 673.5,203.4 661.5,212.6 649.6,221 637.6,228.4 625.6,234.8 615.6,239.2 609.6,241.5 603.6,243.5 593.6,246.1 583.7,247.7 577.7,248.1 573.7,248.2 567.7,248.1 563.7,247.8 557.7,246.9 553.7,246.1 549.7,245.2 543.7,243.3 535.7,240.2 529.7,237.3 525.7,235.2 519.8,231.5 515.8,228.9 509.8,224.4 505.8,221.2 497.8,214.1 489.8,206.2 479.8,195.1 469.8,182.7 459.8,169 449.9,154 439.9,137.8 429.9,120.4 419.9,101.9Z" fill="#ee7631"/>
<path d="M428.7,100.3L765.1,100.3 749.4,117.8 735.4,132.6 721.5,146.8 709.5,158.4 695.5,171.1 683.5,181.3 671.5,190.7 659.6,199.3 647.6,207.1 637.6,212.8 625.6,218.7 615.6,222.8 605.6,226.1 595.6,228.5 585.7,230 579.7,230.4 575.7,230.5 569.7,230.2 565.7,229.9 559.7,229 555.7,228.2 551.7,227.3 545.7,225.4 537.7,222.4 531.7,219.5 527.7,217.4 519.8,212.6 515.8,209.8 509.8,205.4 501.8,198.7 493.8,191.2 483.8,180.7 475.8,171.3 465.8,158.5 457.8,147.4 447.9,132.3 439.9,119.5 429.9,102.3Z" fill="#ec6930"/>
<path d="M439,100.3L754.9,100.3 741.4,114.5 729.4,126.6 717.5,138.1 705.5,149.1 693.5,159.5 681.5,169.1 669.5,178.1 659.6,184.8 647.6,192.2 637.6,197.6 627.6,202.3 617.6,206.2 607.6,209.3 597.6,211.5 587.7,212.9 579.7,213.3 573.7,213.2 569.7,212.9 561.7,211.8 557.7,211 551.7,209.4 543.7,206.8 539.7,205.1 533.7,202.4 525.7,198 517.8,192.9 509.8,187 501.8,180.3 493.8,172.8 485.8,164.5 475.8,153 467.8,142.9 457.8,129.2 449.9,117.5 439.9,101.7Z" fill="#eb622f"/>
<path d="M450,100.3L743.9,100.3 731.4,112.6 719.5,123.9 707.5,134.7 697.5,143.1 685.5,152.7 675.5,160 665.5,166.9 655.6,173.1 645.6,178.7 635.6,183.6 625.6,187.8 617.6,190.7 607.6,193.5 599.6,195.1 589.7,196.3 581.7,196.7 571.7,196.2 563.7,195.1 555.7,193.3 547.7,190.8 539.7,187.7 531.7,183.8 523.8,179.1 515.8,173.7 507.8,167.6 499.8,160.6 491.8,152.9 483.8,144.5 475.8,135.2 467.8,125.2 459.8,114.5 451.4,102.3Z" fill="#ea5c2e"/>
<path d="M461.9,100.3L732,100.3 721.5,110 711.5,118.8 701.5,127.2 691.5,135 681.5,142.4 671.5,149.3 661.5,155.6 653.6,160.2 643.6,165.4 635.6,169 625.6,172.9 617.6,175.5 609.6,177.6 601.6,179.1 593.6,180.1 585.7,180.6 577.7,180.4 569.7,179.6 561.7,178.1 553.7,176 545.7,173.2 537.7,169.8 529.7,165.6 523.8,162 515.8,156.5 507.8,150.3 501.8,145.1 493.8,137.6 485.8,129.4 477.8,120.4 469.8,110.7 463.4,102.3Z" fill="#e9552d"/>
<path d="M475,100.3L718.9,100.3 709.5,108.3 701.5,114.7 691.5,122.3 683.5,128.1 673.5,134.7 665.5,139.7 657.6,144.3 649.6,148.4 641.6,152.2 633.6,155.5 625.6,158.3 617.6,160.7 609.6,162.6 601.6,163.9 593.6,164.7 587.7,164.9 579.7,164.7 573.7,164.2 565.7,162.9 559.7,161.5 551.7,159.1 545.7,156.8 537.7,153.2 531.7,150.1 523.8,145.3 517.8,141.2 509.8,135.1 503.8,130.1 495.8,122.8 489.8,116.8 483.8,110.4 475.8,101.3Z" fill="#e84c2c"/>
<path d="M489.6,100.3L704.3,100.3 689.5,111.2 681.5,116.7 673.5,121.7 665.5,126.5 657.6,130.8 649.6,134.8 643.6,137.5 635.6,140.7 629.6,142.8 621.6,145.2 615.6,146.7 607.6,148.2 601.6,149 595.6,149.5 589.7,149.7 581.7,149.5 575.7,148.9 569.7,148 563.7,146.8 557.7,145.2 551.7,143.2 545.7,140.8 539.7,138.1 531.7,133.9 525.7,130.3 519.8,126.4 513.8,122 507.8,117.2 501.8,112 495.8,106.5 489.8,100.5Z" fill="#e8482c"/>
<path d="M506.6,100.3L687.3,100.3 673.5,109 661.5,115.6 649.6,121.4 637.6,126.2 631.6,128.3 625.6,130.1 619.6,131.6 613.6,132.8 607.6,133.8 601.6,134.5 591.7,134.9 585.7,134.8 579.7,134.3 569.7,132.8 559.7,130.3 549.7,126.9 543.7,124.4 537.7,121.5 527.7,115.8 517.8,109.1 507.8,101.3Z" fill="#e8452c"/>
<path d="M527.6,100.3L666.3,100.3 657.6,104.7 647.6,109 637.6,112.8 629.6,115.2 619.6,117.7 611.6,119.1 601.6,120.2 593.6,120.5 583.7,120 575.7,119 567.7,117.5 559.7,115.3 551.7,112.5 543.7,109.1 535.7,105.1 527.7,100.4Z" fill="#e8432c"/>
<path d="M558.7,100.3L635.2,100.3 625.6,102.8 615.6,104.8 605.6,106 595.6,106.3 585.7,105.9 577.7,104.9 567.7,102.9 559.7,100.6Z" fill="#e8432c"/>
</g>
<g id="contours" fill="none" stroke="#14281e" stroke-opacity="0.68" stroke-width="3" stroke-linejoin="round">
<path d="M831.3,725.5L827.9,747.7 824.9,769.6 822.1,791.6 819.6,813.6" stroke-opacity="0.4" stroke-width="2"/>
<path d="M148.3,797.4L152.2,777.6 156,757.7 159.5,737.7 162.8,717.7 165.8,697.7 168.6,677.7 171.2,657.8 173.6,637.8 175.7,617.8 177.6,597.8 179.3,577.8 180.9,555.9 182.1,535.9 183.2,513.9 183.9,493.9 184.6,471.9 184.9,452 185.1,430 185,408 184.7,386 184.2,364 183.5,342.1 182.6,320.1 181.3,296.1 178.4,250.2 174.5,202.2 169.6,152.2 163.8,100.3" stroke-opacity="0.4" stroke-width="2"/>
<path d="M831.3,532.5L821.7,567.8 812.7,603.8 808.5,621.8 804.5,639.8 797.6,673.7 794.2,691.7 791.1,709.7 785.7,743.7 783.2,761.7 780.9,779.6 777.1,813.6"/>
<path d="M187.4,813.6L191.6,793.6 195.7,773.6 199.5,753.7 203.3,731.7 206.5,711.7 209.4,691.7 212.1,671.7 214.5,651.8 216.9,629.8 218.8,609.8 220.4,589.8 221.7,569.8 222.9,547.9 223.8,527.9 224.4,507.9 224.8,485.9 224.9,463.9 224.8,442 224.4,420 223.8,398 222.9,376 221.8,352.1 220.4,330.1 218.8,306.1 216.9,282.1 214.7,258.1 212.2,232.2 209.4,206.2 206.4,180.2 203.2,154.2 196,100.3"/>
<path d="M831.3,394.9L820.2,424 810.1,452 800.3,479.9 791.7,505.9 782.9,533.9 775.3,559.8 768.1,585.8 761.4,611.8 755.7,635.8 750,661.7 744.8,687.7 740.2,713.7 736.4,737.7 732.8,763.6 730,787.6 727.5,813.6"/>
<path d="M237,813.6L241.1,795.6 245.3,775.6 249.3,755.7 252.9,735.7 256.1,715.7 259.1,695.7 261.5,677.7 263.8,657.8 265.8,637.8 267.6,617.8 269,597.8 270.1,577.8 270.9,557.9 271.5,535.9 271.7,515.9 271.7,493.9 271.4,473.9 270.7,452 269.8,430 268.7,408 267.2,386 265.4,362 263.3,338.1 261,314.1 258.4,290.1 255.3,264.1 252,238.2 248.5,212.2 244.7,186.2 240.5,158.2 235.6,128.3 231,100.3"/>
<path d="M831.3,281.9L812,322.1 792.6,364 776.5,400 760.4,438 745.8,473.9 732.9,507.9 726.4,525.9 720.8,541.9 714.8,559.8 710.4,573.8 704.9,591.8 700.8,605.8 696.4,621.8 692.8,635.8 686.1,663.7 682.7,679.7 679.9,693.7 677,709.7 674.6,723.7 672.5,737.7 670.4,753.7 668.5,769.6 667.1,783.6 665.9,797.6 664.7,813.6"/>
<path d="M299.8,813.6L304.3,795.6 308.4,777.6 312.2,759.7 315.7,741.7 318.8,723.7 321.5,705.7 324.2,685.7 326.2,667.7 327.8,649.8 329.2,631.8 330.2,611.8 330.9,593.8 331.2,573.8 331.2,553.9 330.9,533.9 330.2,513.9 329.2,493.9 327.8,471.9 326,450 324,428 321.4,404 318.8,382 315.7,358 312.3,334.1 308.7,310.1 304.6,284.1 299.5,254.1 294.5,226.2 288.9,196.2 283.1,166.2 276.7,134.3 269.7,100.3"/>
<path d="M831.3,183.7L784.5,264.1 744.3,334.1 710.4,394 680.6,448 666.6,473.9 655,495.9 644.6,515.9 634.5,535.9 624.7,555.9 617.1,571.8 608.9,589.8 602.8,603.8 596.2,619.8 590.8,633.8 586.4,645.8 582.3,657.8 578.5,669.7 574.6,683.7 571.1,697.7 568.6,709.7 566.5,721.7 564.7,733.7 563.2,747.7 562.3,759.7 561.8,771.6 561.7,785.6 562,799.6 562.7,813.6"/>
<path d="M401.8,813.6L407,799.6 412.4,783.6 416.7,769.6 420,757.7 422.9,745.7 425.8,731.7 428.2,717.7 429.8,705.7 431,693.7 431.9,679.7 432.3,665.7 432.2,651.8 431.8,637.8 430.8,621.8 429.3,605.8 427.5,589.8 425.1,571.8 422.4,553.9 418.9,533.9 414.9,511.9 410.5,489.9 405,463.9 399.2,438 393.3,412 378.9,352.1 360.8,280.1 339.1,196.2 313.6,100.3"/>
<path d="M828.1,100.3L801.3,138.9 777.4,172.7 755.4,202.8 733.4,232 713.5,257.5 703.5,269.8 693.5,281.8 683.5,293.5 675.5,302.5 667.5,311.2 659.6,319.7 651.6,327.8 643.6,335.6 635.6,343 629.6,348.2 621.6,354.8 615.6,359.5 607.6,365.2 601.6,369.1 593.6,373.8 587.7,376.9 581.7,379.5 575.7,381.8 569.7,383.6 563.7,385 557.7,385.8 551.7,386.2 545.7,386 539.7,385.2 533.7,383.8 529.7,382.6 523.8,380.2 517.8,377.1 511.8,373.4 507.8,370.6 503.8,367.5 497.8,362.2 493.8,358.3 487.8,351.9 483.8,347.3 477.8,339.8 471.8,331.7 465.8,322.9 461.8,316.6 455.8,306.8 449.9,296.3 443.9,285.3 437.9,273.8 431.9,261.7 425.9,249.1 419.9,236 407.9,208.6 393.9,174.5 380,138.5 365.8,100.3"/>
<path d="M760.1,100.3L747.4,114.1 733.4,128.6 719.5,142.5 707.5,153.8 695.5,164.4 683.5,174.4 671.5,183.6 659.6,192 647.6,199.6 637.6,205.1 627.6,210 617.6,214.1 607.6,217.4 601.6,218.9 597.6,219.8 591.7,220.8 587.7,221.3 581.7,221.7 577.7,221.8 571.7,221.6 567.7,221.3 559.7,220.1 553.7,218.8 549.7,217.7 541.7,214.9 537.7,213.2 531.7,210.4 523.8,205.9 519.8,203.3 513.8,199.1 505.8,192.8 497.8,185.7 493.8,181.9 487.8,175.7 479.8,166.8 469.8,154.6 461.8,143.9 451.9,129.4 443.9,117 433.8,100.3"/>
</g>
<g id="axes" stroke="#1d1a17" fill="none">
<path d="M147.3,99.3H832.3V814.6H147.3ZM151.5,103.1V809.7H828.3V103.1Z" fill="#1d1a17" fill-rule="evenodd" stroke="none"/>
<path d="M235.1,812.6v-11.0M320.1,812.6v-18.0M405.2,812.6v-11.0M490.2,812.6v-18.0M575.3,812.6v-11.0M660.4,812.6v-18.0M745.4,812.6v-11.0M149.3,189.8h12.0M149.3,278.7h17.5M149.3,367.6h12.0M149.3,456.5h17.5M149.3,545.4h12.0M149.3,634.3h17.5M149.3,723.2h12.0" stroke-width="3.4"/>
</g>
<g id="colorbar">
<rect x="881.1" y="849.29" width="62.2" height="16.81" fill="#2e5099"/>
<rect x="881.1" y="833.07" width="62.2" height="16.81" fill="#2e539b"/>
<rect x="881.1" y="816.86" width="62.2" height="16.81" fill="#2e569c"/>
<rect x="881.1" y="800.64" width="62.2" height="16.81" fill="#2e5a9e"/>
<rect x="881.1" y="784.43" width="62.2" height="16.81" fill="#3060a2"/>
<rect x="881.1" y="768.21" width="62.2" height="16.81" fill="#3267a6"/>
<rect x="881.1" y="752.00" width="62.2" height="16.81" fill="#3572ae"/>
<rect x="881.1" y="735.78" width="62.2" height="16.81" fill="#3881ba"/>
<rect x="881.1" y="719.57" width="62.2" height="16.81" fill="#3991c6"/>
<rect x="881.1" y="703.35" width="62.2" height="16.81" fill="#38a4d2"/>
<rect x="881.1" y="687.14" width="62.2" height="16.81" fill="#46b0d2"/>
<rect x="881.1" y="670.93" width="62.2" height="16.81" fill="#5dbbc9"/>
<rect x="881.1" y="654.71" width="62.2" height="16.81" fill="#6dbfba"/>
<rect x="881.1" y="638.50" width="62.2" height="16.81" fill="#6ebdae"/>
<rect x="881.1" y="622.28" width="62.2" height="16.81" fill="#6fbaa2"/>
<rect x="881.1" y="606.07" width="62.2" height="16.81" fill="#71b896"/>
<rect x="881.1" y="589.85" width="62.2" height="16.81" fill="#73b78a"/>
<rect x="881.1" y="573.64" width="62.2" height="16.81" fill="#75b57e"/>
<rect x="881.1" y="557.42" width="62.2" height="16.81" fill="#77b472"/>
<rect x="881.1" y="541.21" width="62.2" height="16.81" fill="#78b365"/>
<rect x="881.1" y="524.99" width="62.2" height="16.81" fill="#79b259"/>
<rect x="881.1" y="508.78" width="62.2" height="16.81" fill="#7ab24e"/>
<rect x="881.1" y="492.56" width="62.2" height="16.81" fill="#7ab249"/>
<rect x="881.1" y="476.35" width="62.2" height="16.81" fill="#7ab243"/>
<rect x="881.1" y="460.14" width="62.2" height="16.81" fill="#7bb240"/>
<rect x="881.1" y="443.92" width="62.2" height="16.81" fill="#7eb340"/>
<rect x="881.1" y="427.71" width="62.2" height="16.81" fill="#81b440"/>
<rect x="881.1" y="411.49" width="62.2" height="16.81" fill="#86b640"/>
<rect x="881.1" y="395.28" width="62.2" height="16.81" fill="#8fb940"/>
<rect x="881.1" y="379.06" width="62.2" height="16.81" fill="#98bc40"/>
<rect x="881.1" y="362.85" width="62.2" height="16.81" fill="#a3c141"/>
<rect x="881.1" y="346.63" width="62.2" height="16.81" fill="#b1c742"/>
<rect x="881.1" y="330.42" width="62.2" height="16.81" fill="#c0cc42"/>
<rect x="881.1" y="314.20" width="62.2" height="16.81" fill="#d0d243"/>
<rect x="881.1" y="297.99" width="62.2" height="16.81" fill="#e5dd41"/>
<rect x="881.1" y="281.77" width="62.2" height="16.81" fill="#f4e23e"/>
<rect x="881.1" y="265.56" width="62.2" height="16.81" fill="#f7cc3b"/>
<rect x="881.1" y="249.35" width="62.2" height="16.81" fill="#f4ac38"/>
<rect x="881.1" y="233.13" width="62.2" height="16.81" fill="#f39b36"/>
<rect x="881.1" y="216.92" width="62.2" height="16.81" fill="#f18e34"/>
<rect x="881.1" y="200.70" width="62.2" height="16.81" fill="#ef8332"/>
<rect x="881.1" y="184.49" width="62.2" height="16.81" fill="#ed7831"/>
<rect x="881.1" y="168.27" width="62.2" height="16.81" fill="#eb6d30"/>
<rect x="881.1" y="152.06" width="62.2" height="16.81" fill="#ea632f"/>
<rect x="881.1" y="135.84" width="62.2" height="16.81" fill="#e9592e"/>
<rect x="881.1" y="119.63" width="62.2" height="16.81" fill="#e8502d"/>
<rect x="881.1" y="103.41" width="62.2" height="16.81" fill="#e84b2d"/>
<rect x="881.1" y="87.20" width="62.2" height="16.81" fill="#e8462c"/>
<rect x="881.85" y="87.45" width="60.70" height="778.40" fill="none" stroke="#1d1a17" stroke-width="3.5"/>
<path d="M942.3,87.50H960.3M942.3,184.79H960.3M942.3,282.07H960.3M942.3,379.36H960.3M942.3,476.65H960.3M942.3,573.94H960.3M942.3,671.22H960.3M942.3,768.51H960.3M942.3,865.80H960.3" stroke="#1d1a17" stroke-width="3.4" fill="none"/>
</g>
<g id="labels">
<text class="num" transform="translate(969.3,99.4) scale(0.922,1)" font-size="47px" text-anchor="start">169.1</text>
<text class="num" transform="translate(969.3,196.7) scale(0.922,1)" font-size="47px" text-anchor="start">167.4</text>
<text class="num" transform="translate(969.3,294.0) scale(0.922,1)" font-size="47px" text-anchor="start">165.7</text>
<text class="num" transform="translate(969.3,391.3) scale(0.922,1)" font-size="47px" text-anchor="start">164.0</text>
<text class="num" transform="translate(969.3,488.5) scale(0.922,1)" font-size="47px" text-anchor="start">162.3</text>
<text class="num" transform="translate(969.3,585.8) scale(0.922,1)" font-size="47px" text-anchor="start">160.6</text>
<text class="num" transform="translate(969.3,683.1) scale(0.922,1)" font-size="47px" text-anchor="start">158.9</text>
<text class="num" transform="translate(969.3,780.4) scale(0.922,1)" font-size="47px" text-anchor="start">157.2</text>
<text class="num" transform="translate(969.3,877.7) scale(0.922,1)" font-size="47px" text-anchor="start">155.5</text>
<text class="num" transform="translate(130.0,105.9) scale(0.975,1)" font-size="46px" text-anchor="end">1.0</text>
<text class="num" transform="translate(130.0,288.9) scale(0.975,1)" font-size="46px" text-anchor="end">0.8</text>
<text class="num" transform="translate(130.0,471.9) scale(0.975,1)" font-size="46px" text-anchor="end">0.6</text>
<text class="num" transform="translate(130.0,655.6) scale(0.975,1)" font-size="46px" text-anchor="end">0.4</text>
<text class="num" transform="translate(130.0,839.2) scale(0.975,1)" font-size="46px" text-anchor="end">0.2</text>
<text class="num" transform="translate(148.3,873.1) scale(0.985,1)" font-size="45.3px" text-anchor="middle">25.0</text>
<text class="num" transform="translate(314.5,873.1) scale(0.985,1)" font-size="45.3px" text-anchor="middle">37.5</text>
<text class="num" transform="translate(491.4,873.1) scale(0.985,1)" font-size="45.3px" text-anchor="middle">50.0</text>
<text class="num" transform="translate(656.0,873.1) scale(0.985,1)" font-size="45.3px" text-anchor="middle">62.5</text>
<text class="num" transform="translate(823.7,873.1) scale(0.985,1)" font-size="45.3px" text-anchor="middle">75.0</text>
<text class="lab" y="52"><tspan class="cjk" x="831" font-size="53px" letter-spacing="0.4">流动度</tspan><tspan x="990" y="51" font-size="54px">/</tspan></text>
<text class="lab" transform="translate(1006,49.5) scale(1.09,1)" font-size="43.5px">mm</text>
<text class="lab" y="939"><tspan class="cjk" x="329" font-size="54px" letter-spacing="-0.6">矿粉占比</tspan><tspan x="542.5" y="937" font-size="54px">/</tspan><tspan x="556.5" y="937" font-size="54px">%</tspan></text>
<text class="lab" transform="translate(52.8,602) rotate(-90) scale(1.045,1)"><tspan class="cjk" x="0" y="0" font-size="51.5px" letter-spacing="-0.5">硅酸钠掺量</tspan><tspan x="256.5" y="-1" font-size="51.5px">/%</tspan></text>
</g>
</svg>
</body>
</html>
